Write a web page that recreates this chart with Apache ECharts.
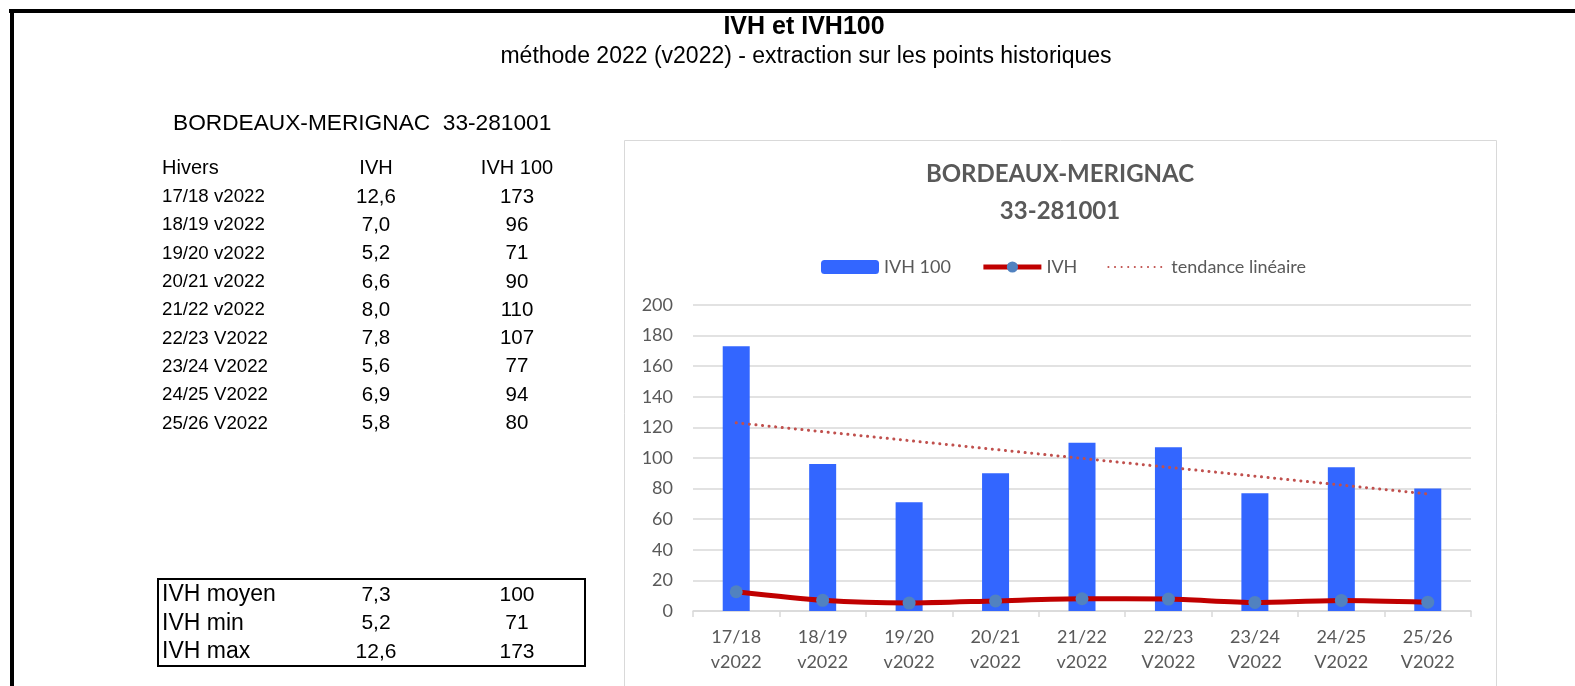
<!DOCTYPE html>
<html>
<head>
<meta charset="utf-8">
<script src="https://cdn.jsdelivr.net/npm/echarts@6/dist/echarts.min.js"></script>
<style>
html, body { margin: 0; padding: 0; background: #fff; }
#main { width: 1575px; height: 686px; }
</style>
</head>
<body>
<div id="main"></div>
<script>
// hivers et valeurs du tableau
var hivers = ['17/18 v2022', '18/19 v2022', '19/20 v2022', '20/21 v2022', '21/22 v2022',
              '22/23 V2022', '23/24 V2022', '24/25 V2022', '25/26 V2022'];
var ivh = [12.6, 7.0, 5.2, 6.6, 8.0, 7.8, 5.6, 6.9, 5.8];
var ivh100 = [173, 96, 71, 90, 110, 107, 77, 94, 80];
// tendance lineaire : extremites
var tendanceDebut = 123;
var tendanceFin = 76.5;
// resume
var resumeLabels = ['IVH moyen', 'IVH min', 'IVH max'];
var resumeIvh = [7.3, 5.2, 12.6];
var resumeIvh100 = [100, 71, 173];

var arial = '"Liberation Sans", Arial, sans-serif';
var calibri = 'Lato, "Open Sans", sans-serif';

function virgule(v) {
    return v.toFixed(1).replace('.', ',');
}

function texte(str, x, y, size, align, bold) {
    return {
        type: 'text',
        x: x,
        y: y,
        style: {
            text: str,
            fill: '#000',
            fontFamily: arial,
            fontSize: size,
            fontWeight: bold ? 'bold' : 'normal',
            align: align,
            verticalAlign: 'middle'
        }
    };
}

var graphics = [
    { type: 'rect', z: 10, shape: { x: 9, y: 9, width: 1566, height: 4 }, style: { fill: '#000' } },
    { type: 'rect', z: 10, shape: { x: 10, y: 9, width: 4, height: 677 }, style: { fill: '#000' } },
    { type: 'rect', z: -1, shape: { x: 624.5, y: 140.5, width: 872, height: 560 },
      style: { fill: 'none', stroke: '#D9D9D9', lineWidth: 1 } },
    texte('IVH et IVH100', 804, 27, 25, 'center', true),
    texte('méthode 2022 (v2022) - extraction sur les points historiques', 806, 57, 23, 'center'),
    texte('BORDEAUX-MERIGNAC  33-281001', 173, 124, 22.7, 'left'),
    texte('Hivers', 162, 168, 20, 'left'),
    texte('IVH', 376, 168, 20, 'center'),
    texte('IVH 100', 517, 168, 20, 'center'),
    { type: 'rect', shape: { x: 158, y: 579, width: 427, height: 87 },
      style: { fill: 'none', stroke: '#000', lineWidth: 2 } },
    // titre du graphique
    { type: 'text', x: 1060, y: 174, style: { text: 'BORDEAUX-MERIGNAC', fill: '#595959', fontFamily: calibri,
      fontSize: 24, fontWeight: 'bold', align: 'center', verticalAlign: 'middle' } },
    { type: 'text', x: 1060, y: 211, style: { text: '33-281001', fill: '#595959', fontFamily: calibri,
      fontSize: 24, fontWeight: 'bold', align: 'center', verticalAlign: 'middle' } }
];

hivers.forEach(function (h, i) {
    var y = 197 + i * 28.3;
    graphics.push(texte(h, 162, y, 18.7, 'left'));
    graphics.push(texte(virgule(ivh[i]), 376, y, 20.5, 'center'));
    graphics.push(texte(String(ivh100[i]), 517, y, 20.5, 'center'));
});

resumeLabels.forEach(function (l, i) {
    var y = 595 + i * 28.5;
    graphics.push(texte(l, 162, y, 23, 'left'));
    graphics.push(texte(virgule(resumeIvh[i]), 376, y, 21, 'center'));
    graphics.push(texte(String(resumeIvh100[i]), 517, y, 21, 'center'));
});

var categories = hivers.map(function (h) { return h.replace(' ', '\n'); });
var tendance = hivers.map(function (h, i) {
    if (i === 0) return tendanceDebut;
    if (i === hivers.length - 1) return tendanceFin;
    return null;
});

var chart = echarts.init(document.getElementById('main'), null, { renderer: 'canvas' });

var options = {
    animation: false,
    backgroundColor: '#fff',
    graphic: graphics,
    legend: {
        left: 816,
        top: 253,
        itemWidth: 58,
        itemHeight: 14,
        itemGap: 30,
        textStyle: { fontFamily: calibri, fontSize: 18, color: '#595959' },
        data: [
            { name: 'IVH 100' },
            { name: 'IVH', lineStyle: { width: 5 } },
            { name: 'tendance linéaire', itemStyle: { opacity: 0 } }
        ]
    },
    grid: {
        left: 693,
        right: 104,
        top: 305,
        bottom: 75
    },
    xAxis: {
        type: 'category',
        data: categories,
        axisLine: { lineStyle: { color: '#D9D9D9', width: 1.5 } },
        axisTick: { show: true, length: 6, lineStyle: { color: '#D9D9D9', width: 1.5 } },
        axisLabel: {
            interval: 0,
            margin: 14,
            fontFamily: calibri,
            fontSize: 18,
            lineHeight: 25,
            color: '#595959'
        }
    },
    yAxis: {
        type: 'value',
        min: 0,
        max: 200,
        interval: 20,
        axisLine: { show: false },
        axisTick: { show: false },
        splitLine: { lineStyle: { color: '#D9D9D9', width: 1.5 } },
        axisLabel: {
            margin: 20,
            fontFamily: calibri,
            fontSize: 18,
            color: '#595959'
        }
    },
    series: [
        {
            name: 'IVH 100',
            type: 'bar',
            data: ivh100,
            barWidth: 27,
            itemStyle: { color: '#3366FF' }
        },
        {
            name: 'IVH',
            type: 'line',
            data: ivh,
            smooth: 0.25,
            symbol: 'circle',
            symbolSize: 13,
            lineStyle: { color: '#C00000', width: 5 },
            itemStyle: { color: '#5182C0' },
            z: 3
        },
        {
            name: 'tendance linéaire',
            type: 'line',
            data: tendance,
            connectNulls: true,
            symbol: 'none',
            lineStyle: { color: '#C0504D', width: 3, type: [0.1, 6.5], cap: 'round' },
            itemStyle: { color: '#C0504D' },
            z: 4
        }
    ]
};

chart.setOption(options);
</script>
</body>
</html>
